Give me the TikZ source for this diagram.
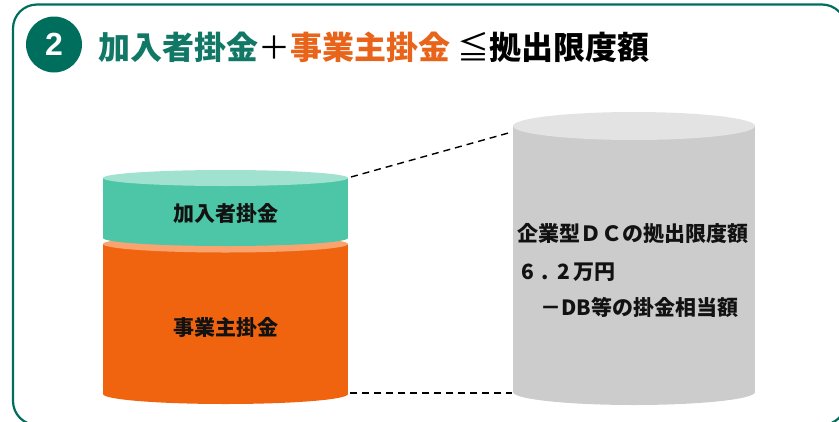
\documentclass[tikz,border=0pt]{standalone}
\usepackage{fontspec}
\newfontfamily\jp{Noto Sans CJK JP}
\newfontfamily\numfont{Liberation Sans}
\definecolor{framegreen}{HTML}{006E5C}
\definecolor{titlegreen}{HTML}{127866}
\definecolor{titleorange}{HTML}{E8641B}
\definecolor{gtop}{HTML}{A0E2CF}
\definecolor{gbody}{HTML}{4CC6A6}
\definecolor{otop}{HTML}{F9A46F}
\definecolor{obody}{HTML}{F0640F}
\definecolor{ctop}{HTML}{E3E3E3}
\definecolor{cbody}{HTML}{CCCCCC}
\tikzset{
  label21/.style={inner sep=0pt, text=black!93, font=\jp\bfseries\fontsize{21}{24}\selectfont},
  dashline/.style={draw=black, line width=1.4pt, dash pattern=on 7pt off 5pt}
}
\begin{document}
\begin{tikzpicture}[x=1pt,y=-1pt]
\useasboundingbox (0,0) rectangle (839,421);
% frame
\draw[framegreen, line width=2.2pt, rounded corners=24pt] (13,4.5) rectangle (846,425);
% number badge
\node[circle, fill=framegreen, minimum size=56pt, inner sep=0pt, text=white,
      font=\numfont\bfseries\fontsize{32}{34}\selectfont] (num) at (54,44.5) {2};
% title
\node[anchor=base west, inner sep=0pt, font=\jp\bfseries\fontsize{32}{36}\selectfont] (title) at (98,59.5)
  {{\color{titlegreen}加入者掛金}{\mdseries ＋}{\color{titleorange}事業主掛金} {\mdseries ≦}拠出限度額};
% left cylinder: orange part
\fill[obody] (225.5,394) ellipse [x radius=122.5pt, y radius=10pt];
\fill[obody] (103,244) rectangle (348,394);
\fill[otop] (225.5,244) ellipse [x radius=122.5pt, y radius=8.5pt];
% left cylinder: green part
\fill[gbody] (225.5,238) ellipse [x radius=122.5pt, y radius=8pt];
\fill[gbody] (103,178) rectangle (348,238);
\fill[gtop] (225.5,178) ellipse [x radius=122.5pt, y radius=8pt];
% right cylinder
\fill[cbody] (634,392) ellipse [x radius=121pt, y radius=13pt];
\fill[cbody] (513,126) rectangle (755,392);
\fill[ctop] (634,126) ellipse [x radius=121pt, y radius=14pt];
% labels
\node[label21, anchor=base] (kanyu) at (225.5,221) {加入者掛金};
\node[label21, anchor=base] (jigyo) at (225.5,335) {事業主掛金};
\node[label21, anchor=base west] (r1) at (517,241.5) {企業型ＤＣの拠出限度額};
\node[label21, anchor=base west] (r2) at (521,279) {6\hspace{8pt}.\hspace{8pt}2\hspace{3pt}万円};
\node[label21, anchor=base west] (r3) at (540,315) {－DB等の掛金相当額};
% connectors
\coordinate (ltop) at (351,177);
\coordinate (rtop) at (512,132);
\coordinate (lbot) at (350,393);
\coordinate (rbot) at (512,393);
\draw[dashline] (ltop) -- (rtop);
\draw[dashline] (lbot) -- (rbot);
\end{tikzpicture}
\end{document}
